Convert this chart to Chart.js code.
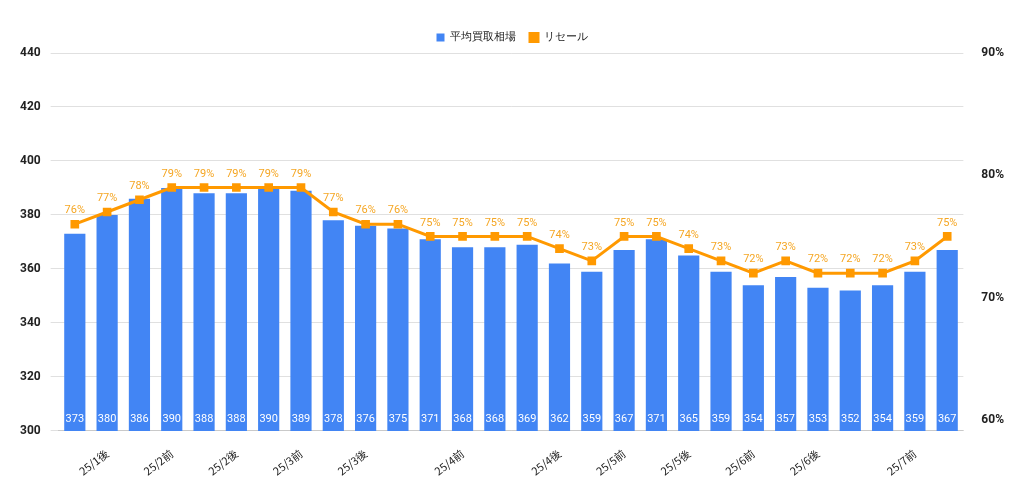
<!DOCTYPE html>
<html><head><meta charset="utf-8">
<script src="https://cdn.jsdelivr.net/npm/chart.js@4"></script>
<style>body{margin:0;background:#fff}#wrap{width:1024px;height:496px}</style>
</head><body><div id="wrap"><canvas id="c"></canvas></div>
<script>
const labels = ['', '25/1後', '', '25/2前', '', '25/2後', '', '25/3前', '', '25/3後', '', '', '25/4前', '', '', '25/4後', '', '25/5前', '', '25/5後', '', '25/6前', '', '25/6後', '', '', '25/7前', ''];
const avgPrice = [373, 380, 386, 390, 388, 388, 390, 389, 378, 376, 375, 371, 368, 368, 369, 362, 359, 367, 371, 365, 359, 354, 357, 353, 352, 354, 359, 367];
const resale = [76, 77, 78, 79, 79, 79, 79, 79, 77, 76, 76, 75, 75, 75, 75, 74, 73, 75, 75, 74, 73, 72, 73, 72, 72, 72, 73, 75];
const leftTicks = [300, 320, 340, 360, 380, 400, 420, 440];
const rightTicks = [60, 70, 80, 90];

// value labels on bars (bottom, white) and line points (above, orange)
const valueLabels = {
  id: 'valueLabels',
  afterDatasetsDraw(chart) {
    const ctx = chart.ctx;
    ctx.save();
    ctx.font = '11px Roboto';
    ctx.textAlign = 'center';
    chart.getDatasetMeta(0).data.forEach((bar, i) => {
      ctx.fillStyle = '#ffffff';
      ctx.textBaseline = 'middle';
      ctx.fillText(avgPrice[i], bar.x, chart.chartArea.bottom - 12);
    });
    chart.getDatasetMeta(1).data.forEach((pt, i) => {
      ctx.fillStyle = '#f5a623';
      ctx.textBaseline = 'bottom';
      ctx.fillText(resale[i] + '%', pt.x, pt.y - 8);
    });
    ctx.restore();
  }
};

new Chart(document.getElementById('c'), {
  data: {
    labels: labels,
    datasets: [
      { type: 'bar', label: '平均買取相場', data: avgPrice, backgroundColor: '#4285f4', yAxisID: 'y', order: 2, categoryPercentage: 0.8, barPercentage: 0.82 },
      { type: 'line', label: 'リセール', data: resale, borderColor: '#ff9900', backgroundColor: '#ff9900', borderWidth: 3, pointStyle: 'rect', pointRadius: 4, yAxisID: 'y1', order: 1 }
    ]
  },
  options: {
    responsive: true, maintainAspectRatio: false, animation: false,
    layout: { padding: { left: 10, right: 10, top: 18, bottom: 10 } },
    plugins: {
      legend: {
        position: 'top',
        labels: { usePointStyle: true, pointStyle: 'rect', boxWidth: 8, boxHeight: 8, padding: 14, font: { family: 'Roboto', size: 11 }, color: '#222', sort: (a, b) => a.datasetIndex - b.datasetIndex }
      },
      tooltip: { enabled: false }
    },
    scales: {
      x: { grid: { display: false }, ticks: { autoSkip: false, maxRotation: 38, minRotation: 38, padding: 8, font: { family: 'Noto Sans CJK JP', size: 11 }, color: '#222' } },
      y: {
        position: 'left', min: 300, max: 440,
        afterBuildTicks: s => { s.ticks = leftTicks.map(v => ({ value: v })); },
        grid: { color: '#e0e0e0' }, border: { display: false },
        ticks: { font: { family: 'Roboto', size: 12, weight: 'bold' }, color: '#222', padding: 10 }
      },
      y1: {
        position: 'right', min: 59.1, max: 90,
        afterBuildTicks: s => { s.ticks = rightTicks.map(v => ({ value: v })); },
        grid: { display: false }, border: { display: false },
        ticks: { font: { family: 'Roboto', size: 12, weight: 'bold' }, color: '#222', padding: 10, callback: v => v + '%' }
      }
    }
  },
  plugins: [valueLabels]
});
</script></body></html>
